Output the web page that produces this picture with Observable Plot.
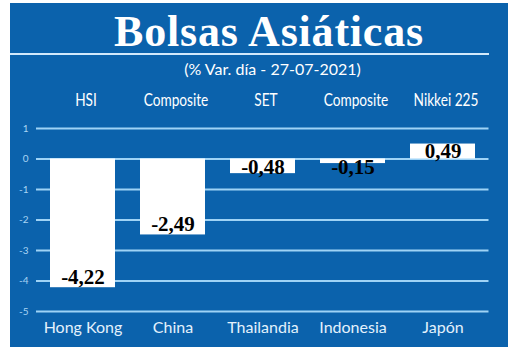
<!DOCTYPE html>
<html>
<head>
<meta charset="utf-8">
<script src="https://cdn.jsdelivr.net/npm/d3@7"></script>
<script src="https://cdn.jsdelivr.net/npm/@observablehq/plot@0.6"></script>
<style>
  html, body { margin: 0; padding: 0; background: #ffffff; }
  #card {
    position: absolute; left: 10px; top: 3px; width: 498px; height: 344px;
    background: #0b62ac; overflow: hidden;
  }
  #title {
    position: absolute; left: 20px; top: 7px; width: 478px; text-align: center;
    font-family: "Liberation Serif", "DejaVu Serif", serif; font-weight: bold;
    font-size: 44px; line-height: 44px; letter-spacing: 0.8px; color: #ffffff; white-space: nowrap;
  }
  #rule {
    position: absolute; left: 0px; top: 49.5px; width: 479px; height: 2.5px; background: #d2e9fb;
  }
  #subtitle {
    position: absolute; left: 27px; top: 58px; width: 471px; text-align: center;
    font-family: Lato, "Open Sans", sans-serif; font-size: 16px; line-height: 16px;
    color: #ffffff; white-space: nowrap;
  }
  #chart { position: absolute; left: 0px; top: 79px; }
</style>
</head>
<body>
<div id="card">
  <div id="title">Bolsas Asiáticas</div>
  <div id="rule"></div>
  <div id="subtitle">(% Var. día - 27-07-2021)</div>
  <div id="chart"></div>
</div>
<script>
const countries = ["Hong Kong", "China", "Thailandia", "Indonesia", "Japón"];
const indices = ["HSI", "Composite", "SET", "Composite", "Nikkei 225"];
const values = [-4.22, -2.49, -0.48, -0.15, 0.49];
const yTicks = [1, 0, -1, -2, -3, -4, -5];

const data = countries.map((c, i) => ({country: c, index: indices[i], value: values[i]}));
const fmt = v => v.toFixed(2).replace(".", ",");

const gridColor = "#9fd3f6";
const tickColor = "#a9d4f4";
const bottomColor = "#e3f1fc";

const labelFont = {fontFamily: "Liberation Serif, DejaVu Serif, serif", fontWeight: "bold", fontSize: 21, fill: "#000000"};

const chart = Plot.plot({
  width: 498,
  height: 265,
  marginTop: 46,
  marginBottom: 36,
  marginLeft: 26,
  marginRight: 19.5,
  style: {background: "transparent", color: "white", overflow: "visible"},
  x: {domain: countries, paddingInner: 0.28, paddingOuter: 0.14, align: 0.5},
  y: {domain: [-5, 1]},
  marks: [
    Plot.ruleY(yTicks, {stroke: gridColor, strokeWidth: 1.8}),
    Plot.barY(data, {x: "country", y1: 0, y2: "value", fill: "#ffffff"}),
    Plot.axisY({ticks: yTicks, tickSize: 0, tickPadding: 8, tickFormat: d => String(d),
      fontSize: 10, fill: tickColor, label: null,
      fontFamily: "Lato, sans-serif"}),
    Plot.axisX({anchor: "top", tickSize: 0, tickPadding: 23, label: null,
      tickFormat: c => indices[countries.indexOf(c)], dx: 3,
      fontSize: 18, fill: "#ffffff",
      fontFamily: "Lato, sans-serif"}),
    Plot.axisX({anchor: "bottom", tickSize: 0, tickPadding: 10, label: null,
      fontSize: 16, fill: bottomColor, fontFamily: "Lato, Open Sans, sans-serif"}),
    Plot.text(data.filter(d => d.value < 0), {
      x: "country", y: d => Math.min(d.value, -0.61), text: d => fmt(d.value),
      lineAnchor: "bottom", dy: -4, ...labelFont
    }),
    Plot.text(data.filter(d => d.value >= 0), {
      x: "country", y: 0, text: d => fmt(d.value),
      lineAnchor: "bottom", dy: -1, ...labelFont
    })
  ]
});
document.getElementById("chart").appendChild(chart);

// condense the index-name labels (the original uses a condensed typeface)
chart.querySelectorAll("text").forEach(t => {
  if (!indices.includes(t.textContent)) return;
  const tr = t.getAttribute("transform");
  if (tr && tr.includes("translate")) {
    t.setAttribute("transform", tr + " scale(0.76,1)");
  } else {
    const x = +(t.getAttribute("x") || 0), y = +(t.getAttribute("y") || 0);
    t.removeAttribute("x"); t.removeAttribute("y");
    t.setAttribute("transform", `translate(${x},${y}) scale(0.76,1)` + (tr ? " " + tr : ""));
  }
});
</script>
</body>
</html>
